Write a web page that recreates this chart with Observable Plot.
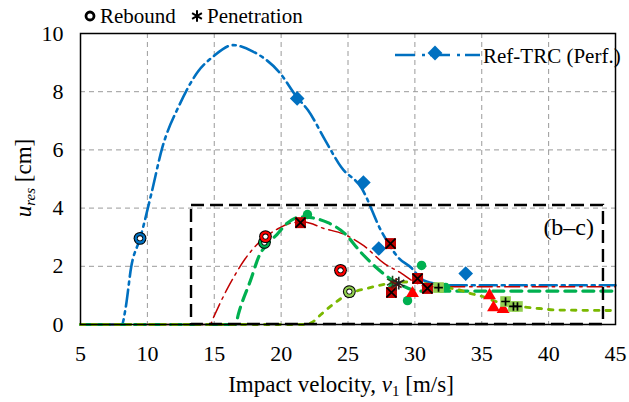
<!DOCTYPE html>
<html>
<head>
<meta charset="utf-8">
<script src="https://cdn.jsdelivr.net/npm/d3@7"></script>
<script src="https://cdn.jsdelivr.net/npm/@observablehq/plot@0.6"></script>
<style>
  html, body { margin: 0; padding: 0; background: white; }
  svg { display: block; }
</style>
</head>
<body>
<div id="chart"></div>
<script>
// ---- Axis ticks ----
const xTicks = [5, 10, 15, 20, 25, 30, 35, 40, 45];
const yTicks = [0, 2, 4, 6, 8, 10];

// ---- Fitted curves (impact velocity v1 [m/s] -> u_res [cm]) ----
const blueV = [5, 8.1, 8.35, 8.8, 9.45, 10.3, 11.1, 12.4, 13.8, 14.9, 16.4, 17.9, 19.9, 21.2, 22.0, 23.3, 24.5, 26.0, 27.5, 28.8, 29.75, 30.5, 31.5, 32.5, 45];
const blueU = [0, 0, 0.5, 2.0, 2.95, 4.5, 6.05, 7.55, 8.7, 9.2, 9.6, 9.38, 8.65, 7.8, 7.37, 6.33, 5.4, 4.7, 3.2, 2.28, 1.94, 1.56, 1.4, 1.35, 1.35];

const redV = [5, 14.7, 14.9, 16.0, 16.5, 17.3, 17.9, 19.8, 20.9, 21.7, 23.2, 24.7, 26.2, 27.7, 29.0, 30.0, 31.0, 45];
const redU = [0, 0, 0.2, 1.25, 1.66, 2.25, 2.6, 3.3, 3.5, 3.52, 3.3, 3.1, 2.7, 2.1, 1.76, 1.45, 1.3, 1.3];

const greenV = [5, 16.6, 16.8, 17.7, 18.4, 19.0, 19.7, 20.5, 21.5, 22.5, 23.5, 24.7, 26.0, 27.7, 28.2, 29.0, 29.75, 30.5, 45];
const greenU = [0, 0, 0.35, 1.5, 2.4, 2.77, 3.1, 3.5, 3.7, 3.65, 3.5, 3.15, 2.46, 1.73, 1.56, 1.35, 1.2, 1.15, 1.15];

const limeV = [5, 21.8, 22.4, 23.0, 23.9, 25.0, 26.5, 27.7, 29.0, 30.0, 31.0, 32.2, 33.2, 34.1, 35.0, 36.0, 37.0, 38.4, 39.3, 40.5, 45];
const limeU = [0, 0, 0.1, 0.35, 0.7, 1.04, 1.25, 1.38, 1.46, 1.46, 1.38, 1.28, 1.2, 1.07, 0.97, 0.8, 0.67, 0.59, 0.55, 0.5, 0.48];

// ---- Experimental points ----
const diamondV = [21.2, 26.15, 27.3, 33.8];
const diamondU = [7.77, 4.88, 2.61, 1.75];

const reboundBlueV = [9.45];  const reboundBlueU = [2.96];
const reboundGreenV = [18.75]; const reboundGreenU = [2.82];
const reboundRedV = [18.83, 24.44]; const reboundRedU = [3.02, 1.86];
const reboundLimeV = [25.1]; const reboundLimeU = [1.13];

const greenDotV = [21.97, 30.5, 29.45, 28.33, 32.3];
const greenDotU = [3.78, 2.03, 0.82, 1.24, 1.27];

const redSquareV = [21.45, 28.18, 28.25, 30.2, 30.94];
const redSquareU = [3.5, 2.78, 1.1, 1.58, 1.24];

const triangleV = [29.82, 35.58, 35.88, 36.6];
const triangleU = [1.07, 1.0, 0.58, 0.52];

const limeSquareV = [31.77, 36.78, 37.37, 37.67];
const limeSquareU = [1.27, 0.79, 0.62, 0.62];

const penetrationV = [28.33, 28.6, 28.8];
const penetrationU = [1.46, 1.38, 1.42];

// zoom-in box of panel (b-c)
const boxV = [13.3, 44.1];
const boxU = [0, 4.09];
const boxLabel = ["(b–c)"];
const boxLabelV = [41.5];
const boxLabelU = [3.33];

// ---- build tables ----
const pts = (vs, us) => vs.map((v, i) => ({v, u: us[i]}));
const blue = pts(blueV, blueU), red = pts(redV, redU), green = pts(greenV, greenU), lime = pts(limeV, limeU);

const C_BLUE = "#0070C0", C_RED = "#C00000", C_BRED = "#FF0000", C_GREEN = "#00B050", C_LIME = "#7AB800", C_LIMEFILL = "#92D050";

function ring(data, color) {
  return [
    Plot.dot(data, {x: "v", y: "u", r: 6.4, fill: "black"}),
    Plot.dot(data, {x: "v", y: "u", r: 5.4, fill: color}),
    Plot.dot(data, {x: "v", y: "u", r: 3.0, fill: "black"}),
    Plot.dot(data, {x: "v", y: "u", r: 2.2, fill: "white"})
  ];
}

const FONT = "Liberation Serif";

const chart = Plot.plot({
  width: 629,
  height: 402,
  marginLeft: 80,
  marginRight: 14,
  marginTop: 33,
  marginBottom: 78,
  style: {fontFamily: FONT, fontSize: "21px", color: "black", background: "white", overflow: "visible"},
  x: {domain: [5, 45]},
  y: {domain: [0, 10]},
  marks: [
    Plot.gridX(xTicks.slice(1, -1), {stroke: "#9a9a9a", strokeOpacity: 1, strokeWidth: 1, strokeDasharray: "5,4"}),
    Plot.gridY(yTicks.slice(1, -1), {stroke: "#9a9a9a", strokeOpacity: 1, strokeWidth: 1, strokeDasharray: "5,4"}),
    Plot.axisX(xTicks, {tickSize: 0, tickPadding: 21, label: null, fontSize: 22, fontFamily: FONT}),
    Plot.axisY(yTicks, {tickSize: 0, tickPadding: 17, label: null, fontSize: 22, fontFamily: FONT}),
    // curves
    Plot.line(blue, {x: "v", y: "u", curve: "monotone-x", stroke: C_BLUE, strokeWidth: 2.6, strokeDasharray: "17,5,3,5"}),
    Plot.line(red, {x: "v", y: "u", curve: "monotone-x", stroke: C_RED, strokeWidth: 1.5, strokeDasharray: "15,5,2.5,5"}),
    Plot.line(green, {x: "v", y: "u", curve: "monotone-x", stroke: C_GREEN, strokeWidth: 3.2, strokeDasharray: "11,7"}),
    Plot.line(lime, {x: "v", y: "u", curve: "monotone-x", stroke: C_LIME, strokeWidth: 2.8, strokeDasharray: "4.5,7"}),
    // zoom box
    Plot.rect([{x1: boxV[0], x2: boxV[1], y1: boxU[0], y2: boxU[1]}], {x1: "x1", x2: "x2", y1: "y1", y2: "y2", fill: "none", stroke: "black", strokeWidth: 2.4, strokeDasharray: "13,6"}),
    Plot.text(boxLabel.map((t, i) => ({t, v: boxLabelV[i], u: boxLabelU[i]})), {x: "v", y: "u", text: "t", fontSize: 24, fontFamily: FONT, fill: "black"}),
    // markers
    Plot.dot(pts(diamondV, diamondU), {x: "v", y: "u", symbol: "diamond2", r: 6.6, fill: C_BLUE}),
    ...ring(pts(reboundBlueV, reboundBlueU), C_BLUE),
    ...ring(pts(reboundGreenV, reboundGreenU), C_GREEN),
    ...ring(pts(reboundRedV, reboundRedU), C_BRED),
    ...ring(pts(reboundLimeV, reboundLimeU), C_LIMEFILL),
    Plot.dot(pts(greenDotV, greenDotU), {x: "v", y: "u", r: 4.7, fill: C_GREEN}),
    Plot.dot(pts(redSquareV, redSquareU), {x: "v", y: "u", symbol: "square", r: 6.2, fill: C_RED}),
    Plot.dot(pts(redSquareV, redSquareU), {x: "v", y: "u", symbol: "times", r: 4.6, stroke: "black", strokeWidth: 1.7}),
    Plot.dot(pts(triangleV, triangleU), {x: "v", y: "u", symbol: "triangle", r: 4.8, fill: C_BRED}),
    Plot.dot(pts(limeSquareV, limeSquareU), {x: "v", y: "u", symbol: "square", r: 6.0, fill: C_LIMEFILL}),
    Plot.dot(pts(limeSquareV, limeSquareU), {x: "v", y: "u", symbol: "plus", r: 2.9, stroke: "black", strokeWidth: 1.7}),
    Plot.dot(pts(penetrationV, penetrationU), {x: "v", y: "u", symbol: "asterisk", r: 6, stroke: (d, i) => ["#1f4d1f", "#6b1010", "#222"][i], strokeWidth: 1.6}),
    Plot.frame({stroke: "black", strokeWidth: 1.5})
  ]
});

document.getElementById("chart").append(chart);

// ---- text labels and legends ----
const svg = d3.select(chart);

// x axis title
const xt = svg.append("text")
  .attr("x", 341).attr("y", 392)
  .attr("text-anchor", "middle")
  .attr("font-family", FONT).attr("font-size", 23).attr("fill", "black");
xt.append("tspan").text("Impact velocity, ");
xt.append("tspan").attr("font-style", "italic").text("v");
xt.append("tspan").attr("font-size", 15).attr("dy", 4).text("1");
xt.append("tspan").attr("dy", -4).text(" [m/s]");

// y axis title
const yt = svg.append("text")
  .attr("transform", "translate(31,178) rotate(-90)")
  .attr("text-anchor", "middle")
  .attr("font-family", FONT).attr("font-size", 23).attr("fill", "black");
yt.append("tspan").attr("font-style", "italic").text("u");
yt.append("tspan").attr("font-style", "italic").attr("font-size", 15).attr("dy", 4).text("res");
yt.append("tspan").attr("dy", -4).text(" [cm]");

// top legend: Rebound / Penetration
const lg = svg.append("g").attr("font-family", FONT).attr("font-size", 21).attr("fill", "black").attr("text-anchor", "start");
lg.append("circle").attr("cx", 90).attr("cy", 16).attr("r", 4).attr("fill", "white").attr("stroke", "black").attr("stroke-width", 2.8);
lg.append("text").attr("x", 100).attr("y", 23).attr("text-anchor", "start").text("Rebound");
lg.append("path").attr("transform", "translate(197,16)")
  .attr("d", d3.symbol(d3.symbolAsterisk, 90)()).attr("stroke", "black").attr("stroke-width", 2).attr("fill", "none");
lg.append("text").attr("x", 207).attr("y", 23).attr("text-anchor", "start").text("Penetration");

// Ref-TRC legend
const rl = svg.append("g");
rl.append("line").attr("x1", 395).attr("x2", 480).attr("y1", 55).attr("y2", 55)
  .attr("stroke", C_BLUE).attr("stroke-width", 2.6).attr("stroke-dasharray", "20,7,3,5,20,7,3,5");
rl.append("path").attr("transform", "translate(435,53)")
  .attr("d", d3.symbol(d3.symbolDiamond2, 140)()).attr("fill", C_BLUE);
rl.append("text").attr("x", 483).attr("y", 63).attr("text-anchor", "start").attr("font-family", FONT).attr("font-size", 21).attr("fill", "black").text("Ref-TRC (Perf.)");
</script>
</body>
</html>
